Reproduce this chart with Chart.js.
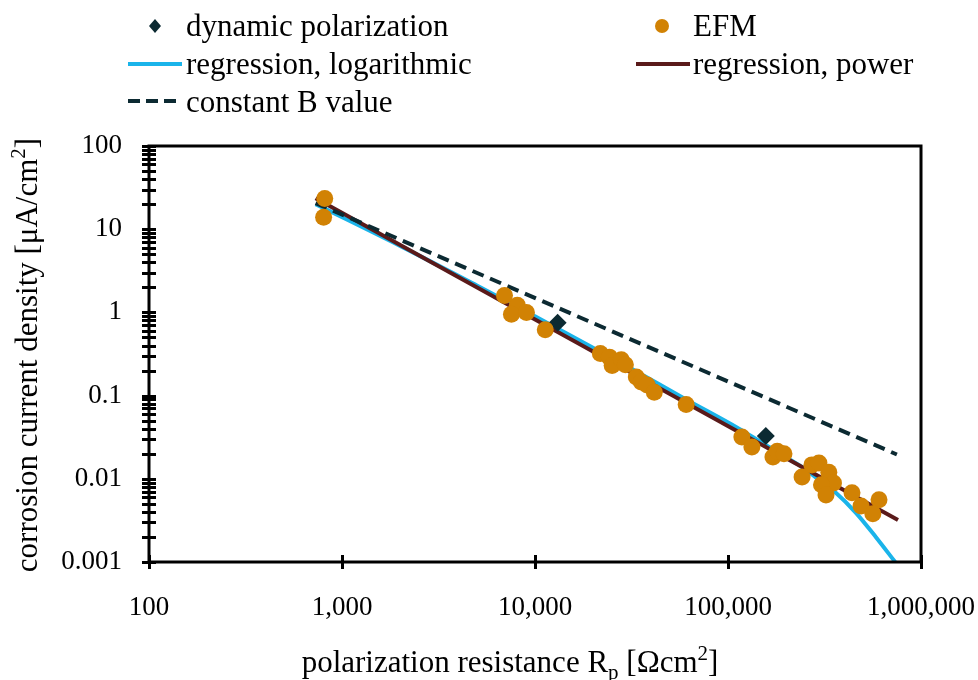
<!DOCTYPE html>
<html lang="en">
<head>
<meta charset="UTF-8">
<title>Corrosion current density vs polarization resistance</title>
<script src="https://cdn.jsdelivr.net/npm/chart.js"></script>
<style>
  html, body { margin: 0; padding: 0; background: #fff; }
  #chart { display: block; }
</style>
</head>
<body>
<canvas id="chart" width="978" height="680"></canvas>
<script>
// --- values ---
// EFM measurements
const efmRp = [814, 803, 6950, 8100, 7550, 9030, 11300, 21800, 24300, 25100, 28000, 29400,
               33500, 35500, 38100, 41500, 60700, 118000, 133000, 171000, 180000, 195000,
               242000, 272000, 296000, 333000, 352000, 305000, 322000, 439000, 489000, 606000, 563000];
const efmI  = [23.4, 13.9, 1.6, 1.22, 0.95, 1.0, 0.62, 0.32, 0.29, 0.23, 0.27, 0.235,
               0.167, 0.146, 0.134, 0.11, 0.078, 0.0318, 0.0241, 0.0183, 0.0215, 0.02,
               0.0105, 0.0147, 0.0155, 0.012, 0.0089, 0.0085, 0.0064, 0.0068, 0.0047, 0.0056, 0.0038];

// dynamic polarization
const dynRp = [13100, 157000];
const dynI  = [0.75, 0.0327];

// regression, logarithmic
const logRegRp = [730, 2000, 5000, 10000, 30000, 60000, 114000, 150000, 200000, 241500,
                  300000, 362000, 460000, 583000, 735000];
const logRegI  = [20, 6.3, 2.1, 0.9, 0.225, 0.091, 0.04, 0.0271, 0.0181, 0.0139,
                  0.0095, 0.0068, 0.0039, 0.002, 0.001];

// regression, power
const powRegRp = [730, 760000];
const powRegI  = [23.5, 0.0032];

// constant B value
const constBRp = [730, 750000];
const constBI  = [20.6, 0.0196];

// axes
const xTicks = [100, 1000, 10000, 100000, 1000000];
const xTickLabels = ['100', '1,000', '10,000', '100,000', '1,000,000'];
const yTicks = [0.001, 0.01, 0.1, 1, 10, 100];
const yTickLabels = ['0.001', '0.01', '0.1', '1', '10', '100'];

const FONT = '"Liberation Serif", "Times New Roman", serif';
const ORANGE = '#D18204';
const DARK = '#0C2A32';
const BLUE = '#1AB4EA';
const BROWN = '#5A1A1A';

function pts(xs, ys) {
  return xs.map((x, i) => ({ x: x, y: ys[i] }));
}

// minor ticks 2..9 in every decade of the y axis
const yMinor = [];
for (let i = 0; i < yTicks.length - 1; i++) {
  for (let m = 2; m <= 9; m++) yMinor.push(yTicks[i] * m);
}

// axis box + ticks crossing the axis lines, titles, legend
const framePlugin = {
  id: 'frame',
  afterDatasetsDraw(chart) {
    const { ctx, chartArea: a, scales: { x, y } } = chart;
    ctx.save();
    ctx.strokeStyle = '#000';
    ctx.lineWidth = 3;
    ctx.beginPath();
    yTicks.concat(yMinor).forEach(v => {
      const py = Math.round(y.getPixelForValue(v)) + 0.5;
      ctx.moveTo(a.left - 7, py);
      ctx.lineTo(a.left + 7, py);
    });
    xTicks.forEach(v => {
      const px = Math.round(x.getPixelForValue(v)) + 0.5;
      ctx.moveTo(px, a.bottom - 7);
      ctx.lineTo(px, a.bottom + 7);
    });
    ctx.stroke();
    ctx.strokeRect(a.left, a.top, a.right - a.left, a.bottom - a.top);
    ctx.restore();
  },
  afterDraw(chart) {
    const { ctx } = chart;
    ctx.save();
    ctx.fillStyle = '#000';

    // x axis title with subscript / superscript
    const big = '31px ' + FONT, small = '21px ' + FONT;
    const parts = [
      ['polarization resistance R', big, 0],
      ['p', small, 7],
      [' [\u03A9cm', big, 0],
      ['2', small, -12],
      [']', big, 0]
    ];
    let w = 0;
    parts.forEach(p => { ctx.font = p[1]; w += ctx.measureText(p[0]).width; });
    let cx = 510 - w / 2;
    ctx.textBaseline = 'alphabetic';
    ctx.textAlign = 'left';
    parts.forEach(p => {
      ctx.font = p[1];
      ctx.fillText(p[0], cx, 672 + p[2]);
      cx += ctx.measureText(p[0]).width;
    });

    // y axis title (rotated)
    const yParts = [
      ['corrosion current density [\u03BCA/cm', big, 0],
      ['2', small, -12],
      [']', big, 0]
    ];
    w = 0;
    yParts.forEach(p => { ctx.font = p[1]; w += ctx.measureText(p[0]).width; });
    ctx.translate(37, 355);
    ctx.rotate(-Math.PI / 2);
    cx = -w / 2;
    yParts.forEach(p => {
      ctx.font = p[1];
      ctx.fillText(p[0], cx, p[2]);
      cx += ctx.measureText(p[0]).width;
    });
    ctx.restore();

    // legend
    ctx.save();
    ctx.font = '31px ' + FONT;
    ctx.fillStyle = '#000';
    ctx.textBaseline = 'alphabetic';
    ctx.fillText('dynamic polarization', 186, 36);
    ctx.fillText('EFM', 693, 36);
    ctx.fillText('regression, logarithmic', 186, 74);
    ctx.fillText('regression, power', 693, 74);
    ctx.fillText('constant B value', 186, 112);

    ctx.fillStyle = DARK;
    ctx.beginPath();
    ctx.moveTo(155, 19); ctx.lineTo(161, 26); ctx.lineTo(155, 33); ctx.lineTo(149, 26);
    ctx.closePath(); ctx.fill();

    ctx.fillStyle = ORANGE;
    ctx.beginPath(); ctx.arc(662, 26, 7, 0, Math.PI * 2); ctx.fill();

    ctx.lineWidth = 4;
    ctx.strokeStyle = BLUE;
    ctx.beginPath(); ctx.moveTo(128, 64); ctx.lineTo(182, 64); ctx.stroke();
    ctx.strokeStyle = BROWN;
    ctx.beginPath(); ctx.moveTo(636, 64); ctx.lineTo(690, 64); ctx.stroke();
    ctx.strokeStyle = DARK;
    ctx.setLineDash([12, 6]);
    ctx.beginPath(); ctx.moveTo(128, 101); ctx.lineTo(182, 101); ctx.stroke();
    ctx.restore();
  }
};

const ctx = document.getElementById('chart').getContext('2d');
new Chart(ctx, {
  type: 'scatter',
  data: {
    datasets: [
      {
        label: 'EFM',
        data: pts(efmRp, efmI),
        backgroundColor: ORANGE,
        borderWidth: 0,
        pointRadius: 8.5,
        order: 0
      },
      {
        label: 'dynamic polarization',
        data: pts(dynRp, dynI),
        backgroundColor: DARK,
        borderWidth: 0,
        pointStyle: 'rectRot',
        pointRadius: 9,
        order: 1
      },
      {
        label: 'constant B value',
        data: pts(constBRp, constBI),
        showLine: true,
        borderColor: DARK,
        borderWidth: 4,
        borderDash: [12, 7],
        pointRadius: 0,
        order: 2
      },
      {
        label: 'regression, power',
        data: pts(powRegRp, powRegI),
        showLine: true,
        borderColor: BROWN,
        borderWidth: 4,
        pointRadius: 0,
        order: 3
      },
      {
        label: 'regression, logarithmic',
        data: pts(logRegRp, logRegI),
        showLine: true,
        borderColor: BLUE,
        borderWidth: 4,
        pointRadius: 0,
        cubicInterpolationMode: 'monotone',
        order: 4
      }
    ]
  },
  options: {
    responsive: false,
    animation: false,
    events: [],
    layout: { padding: { left: 0, right: 57, top: 146, bottom: 0 } },
    plugins: {
      legend: { display: false },
      tooltip: { enabled: false }
    },
    scales: {
      x: {
        type: 'logarithmic',
        min: 100,
        max: 1000000,
        grid: { display: false, drawTicks: false },
        border: { display: false },
        afterBuildTicks: s => { s.ticks = xTicks.map(v => ({ value: v })); },
        afterFit: s => { s.height = 118; s.paddingLeft = 0; s.paddingRight = 0; },
        ticks: {
          padding: 30,
          color: '#000',
          font: { family: FONT, size: 27 },
          maxRotation: 0,
          autoSkip: false,
          callback: v => xTickLabels[xTicks.indexOf(v)]
        }
      },
      y: {
        type: 'logarithmic',
        min: 0.001,
        max: 100,
        grid: { display: false, drawTicks: false },
        border: { display: false },
        afterBuildTicks: s => { s.ticks = yTicks.map(v => ({ value: v })); },
        afterFit: s => { s.width = 149; s.paddingTop = 0; s.paddingBottom = 0; },
        ticks: {
          padding: 27,
          color: '#000',
          font: { family: FONT, size: 27 },
          autoSkip: false,
          callback: v => yTickLabels[yTicks.indexOf(v)]
        }
      }
    }
  },
  plugins: [framePlugin]
});
</script>
</body>
</html>
